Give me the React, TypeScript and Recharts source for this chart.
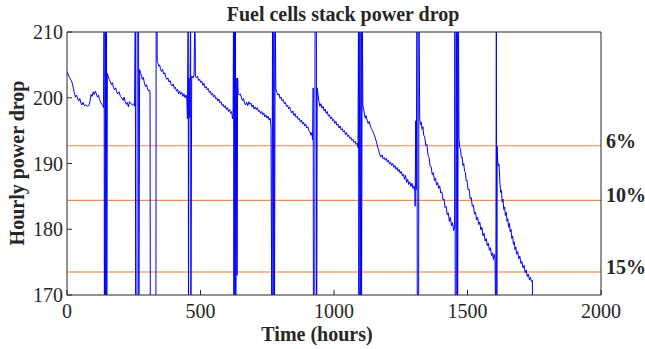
import React from 'react';
import { LineChart, Line, XAxis, YAxis, ReferenceLine } from 'recharts';

// [hours, power] pairs, one run per stack operating period (purge spikes kept inline)
const run1: [number, number][] = [
  [0, 204], [4, 203.6], [8, 203.2], [12, 202.9], [16, 202.6], [20, 202.2], [24, 201.4], [28, 200.6],
  [32, 200.1], [36, 200.4], [40, 199.8], [44, 199.5], [48, 199.9], [52, 199.2], [56, 198.9], [60, 199.3],
  [65, 198.8], [70, 198.9], [76, 198.7], [82, 198.8], [86, 199.4], [90, 200.5], [94, 200.2], [98, 200.9],
  [102, 200.5], [106, 201.0], [110, 200.6], [114, 200.1], [118, 200.4], [122, 199.7], [126, 199.3],
  [130, 199.0], [134, 198.8], [137, 198.5],
  [139, 215], [140, 165], [143, 198.5], [144, 215], [145, 165], [148, 215], [149, 165],
];

const run2: [number, number][] = [
  [151, 203.7], [154, 203.3], [158, 202.8], [162, 202.5], [166, 202.0], [170, 202.3], [174, 201.6],
  [178, 201.2], [182, 201.5], [186, 200.9], [190, 200.6], [195, 200.9], [200, 200.2], [205, 200.0],
  [210, 199.6], [214, 200.1], [218, 199.4], [222, 199.0], [226, 199.3], [230, 198.6], [234, 199.4],
  [238, 199.2], [242, 199.0], [246, 198.9], [250, 199.1], [253, 198.7],
  [256, 215], [257, 165], [262, 165], [263, 215], [268, 215], [269, 165],
];

const run3: [number, number][] = [
  [272, 204.3], [275, 203.9], [278, 203.5], [282, 202.8], [286, 203.1], [290, 202.2], [294, 201.7],
  [298, 202.0], [302, 201.3], [306, 201.0], [309, 201.2], [311, 200.9], [312, 165],
  [333, 165], [334, 215],
];

const run4: [number, number][] = [
  [337, 215], [338, 205.5], [341, 205.2], [344, 204.8], [347, 205.0], [350, 204.4], [354, 204.0],
  [358, 204.3], [362, 203.6], [366, 203.8], [370, 203.1], [374, 202.8], [378, 203.0], [382, 202.4],
  [386, 202.6], [390, 202.0], [394, 201.8], [398, 202.1], [402, 201.4], [406, 201.6], [410, 201.0],
  [414, 201.3], [418, 200.6], [422, 201.0], [426, 200.5], [430, 200.8], [434, 200.2], [438, 200.6],
  [442, 200.0], [446, 200.4], [449, 199.8], [451, 196.8],
  [454, 215], [455, 165], [457, 203.0], [460, 197.0], [463, 215], [464, 165], [467, 203.3],
  [472, 203.0], [476, 203.5], [479, 215],
];

const run5: [number, number][] = [
  [481, 203.2], [485, 203.0], [489, 203.3], [493, 202.6], [497, 202.8], [501, 202.3], [505, 202.5],
  [509, 201.9], [513, 202.2], [517, 201.5], [521, 201.7], [525, 201.2], [529, 201.4], [533, 200.8],
  [537, 201.0], [541, 200.4], [545, 200.7], [549, 200.1], [553, 200.4], [557, 199.8], [561, 200.0],
  [565, 199.5], [569, 199.8], [573, 199.2], [577, 199.4], [581, 198.8], [585, 199.0], [589, 198.5],
  [593, 198.8], [597, 198.2], [601, 198.5], [605, 197.9], [609, 198.2], [613, 197.6], [617, 197.9],
  [620, 196.8], [622, 197.5],
  [624, 215], [625, 165], [628, 215], [629, 165], [631, 215], [632, 165], [636, 203.0], [637, 173],
  [639, 203.0],
];

const run6: [number, number][] = [
  [641, 200.7], [645, 200.4], [649, 200.6], [653, 200.1], [657, 199.6], [661, 199.9], [665, 199.2],
  [669, 198.9], [673, 199.3], [677, 198.8], [681, 199.4], [685, 199.0], [689, 199.2], [693, 198.6],
  [697, 198.9], [701, 198.3], [705, 198.6], [709, 198.2], [713, 198.5], [717, 197.9], [721, 198.1],
  [725, 197.6], [729, 197.9], [733, 197.4], [737, 197.7], [741, 197.1], [745, 197.4], [749, 196.9],
  [753, 197.2], [757, 196.6], [761, 196.9], [764, 195.6],
  [767, 165], [770, 215], [772, 165], [775, 215], [777, 165], [780, 215],
];

const run7: [number, number][] = [
  [782, 201.4], [786, 200.8], [790, 200.4], [794, 200.6], [798, 199.9], [802, 200.1], [806, 199.5],
  [810, 199.7], [814, 199.1], [818, 199.3], [822, 198.7], [826, 198.9], [830, 198.3], [834, 198.6],
  [838, 198.0], [842, 197.7], [846, 198.0], [850, 197.3], [854, 197.6], [858, 197.0], [862, 197.2],
  [866, 196.7], [870, 196.9], [874, 196.3], [878, 196.6], [882, 196.0], [886, 196.3], [890, 195.7],
  [894, 196.0], [898, 195.4], [902, 195.6], [906, 195.0], [910, 194.8], [914, 194.3], [917, 194.7],
  [920, 193.6],
  [922, 201.5], [923, 165], [928, 165], [929, 215], [934, 215], [935, 165],
];

const run8: [number, number][] = [
  [937, 201.5], [940, 200.6], [943, 199.6], [947, 198.7], [951, 199.1], [955, 198.4], [959, 198.7],
  [963, 198.0], [967, 198.3], [971, 197.6], [975, 197.9], [979, 197.2], [983, 197.4], [987, 196.8],
  [991, 197.1], [995, 196.5], [999, 196.7], [1003, 196.1], [1007, 196.4], [1011, 195.8], [1015, 196.0],
  [1019, 195.4], [1023, 195.7], [1027, 195.1], [1031, 195.3], [1035, 194.8], [1039, 195.0],
  [1043, 194.4], [1047, 194.7], [1051, 194.1], [1055, 194.3], [1059, 193.8], [1063, 194.0],
  [1067, 193.5], [1071, 193.7], [1075, 193.2], [1079, 193.4], [1083, 192.9], [1087, 193.1],
  [1090, 192.4],
  [1092, 215], [1093, 165], [1097, 215], [1098, 165], [1102, 215], [1103, 165], [1106, 215],
];

const run9: [number, number][] = [
  [1108, 198.9], [1111, 198.3], [1114, 197.5], [1117, 196.9], [1120, 197.3], [1124, 196.6],
  [1128, 196.1], [1132, 196.4], [1136, 195.7], [1140, 195.3], [1144, 195.0], [1148, 194.6],
  [1152, 194.2], [1156, 193.7], [1160, 193.1], [1164, 192.4], [1168, 191.9], [1172, 191.3],
  [1176, 191.0], [1180, 191.3], [1184, 190.7], [1188, 190.9], [1192, 190.5], [1196, 190.8],
  [1200, 190.2], [1204, 190.5], [1208, 189.9], [1212, 190.2], [1216, 189.7], [1220, 190.0],
  [1224, 189.4], [1228, 189.7], [1232, 189.1], [1236, 189.4], [1240, 188.8], [1244, 189.1],
  [1248, 188.5], [1252, 188.8], [1256, 188.1], [1260, 188.4], [1264, 187.6], [1268, 188.2],
  [1272, 187.1], [1276, 187.6], [1280, 186.8], [1284, 187.2], [1288, 186.5], [1292, 187.0],
  [1296, 186.2], [1300, 186.6], [1303, 185.7],
  [1304, 183.5], [1306, 196.5], [1308, 186.0], [1311, 215], [1312, 165], [1317, 165], [1318, 215],
];

const run10: [number, number][] = [
  [1321, 196.8], [1324, 195.9], [1327, 196.3], [1330, 195.2], [1333, 195.6], [1336, 194.3],
  [1340, 194.0], [1344, 192.7], [1348, 192.9], [1352, 191.3], [1356, 190.9], [1360, 189.6],
  [1364, 189.5], [1368, 188.3], [1372, 188.6], [1376, 187.4], [1380, 187.8], [1384, 186.7],
  [1388, 187.1], [1392, 186.2], [1396, 186.6], [1400, 185.5], [1404, 185.7], [1408, 184.5],
  [1412, 184.6], [1416, 183.3], [1420, 183.5], [1424, 182.2], [1428, 182.5], [1432, 181.2],
  [1436, 181.8], [1440, 180.5], [1444, 181.0], [1448, 179.8], [1452, 180.3],
  [1453, 215], [1454, 165], [1458, 165], [1459, 215], [1462, 215], [1463, 165], [1466, 215],
];

const run11: [number, number][] = [
  [1468, 193.8], [1471, 192.4], [1474, 192.2], [1477, 190.9], [1480, 191.0], [1483, 189.7],
  [1486, 190.0], [1489, 188.8], [1492, 188.7], [1495, 187.4], [1498, 187.5], [1502, 186.0],
  [1506, 186.1], [1510, 184.6], [1514, 184.8], [1518, 183.5], [1522, 183.7], [1526, 182.3],
  [1530, 182.6], [1534, 181.4], [1538, 181.8], [1542, 180.7], [1546, 181.1], [1550, 179.9],
  [1554, 180.3], [1558, 179.0], [1562, 179.4], [1566, 178.2], [1570, 178.6], [1574, 177.5],
  [1578, 177.9], [1582, 176.8], [1586, 177.2], [1590, 176.0], [1594, 176.4], [1597, 175.4],
  [1600, 176.2], [1603, 175.5],
  [1606, 165], [1608, 215], [1610, 165],
];

const run12: [number, number][] = [
  [1611, 192.6], [1613, 190.4], [1615, 189.6], [1618, 189.9], [1621, 187.4], [1624, 185.6],
  [1627, 185.9], [1630, 184.1], [1633, 184.6], [1636, 183.0], [1639, 183.4], [1642, 182.1],
  [1645, 182.6], [1648, 181.2], [1651, 181.6], [1654, 180.3], [1657, 180.9], [1660, 179.6],
  [1663, 180.0], [1666, 178.6], [1669, 179.0], [1672, 177.7], [1675, 178.1], [1678, 176.9],
  [1681, 177.3], [1684, 176.2], [1688, 176.6], [1692, 175.5], [1696, 175.9], [1700, 174.8],
  [1704, 175.1], [1708, 174.1], [1712, 174.5], [1716, 173.4], [1720, 173.8], [1724, 172.8],
  [1728, 173.2], [1732, 172.3], [1736, 172.7], [1740, 172.0], [1743, 172.2], [1744, 165],
];

const thresholdLabels = ['6%', '10%', '15%'];
const thresholdValues = [192.7, 184.4, 173.5];
const thresholdColors = ['#ee8a4a', '#e8782a', '#f4bb93'];
const thresholdWidths = [1, 1, 2];

const xTicks = [0, 500, 1000, 1500, 2000];
const yTicks = [170, 180, 190, 200, 210];

const data = [run1, run2, run3, run4, run5, run6, run7, run8, run9, run10, run11, run12]
  .flat()
  .map(([t, v]) => ({ t, v }));

const FONT = '"Liberation Serif", "Times New Roman", serif';
const INK = '#262626';
const tickStyle = { fontSize: 20, fill: INK, fontFamily: FONT };

export default function App() {
  return (
    <div style={{ position: 'absolute', left: 0, top: 0, width: 645, height: 349, background: '#fff' }}>
      <LineChart width={645} height={349} data={data} margin={{ top: 0, right: 0, bottom: 0, left: 0 }}>
        <XAxis
          dataKey="t"
          type="number"
          domain={[0, 2000]}
          ticks={xTicks}
          interval={0}
          allowDataOverflow
          height={54}
          stroke={INK}
          tickSize={-5}
          tickMargin={14}
          tick={tickStyle}
        />
        <XAxis
          xAxisId="top"
          orientation="top"
          dataKey="t"
          type="number"
          domain={[0, 2000]}
          ticks={xTicks}
          interval={0}
          allowDataOverflow
          height={32}
          stroke={INK}
          tickSize={-5}
          tick={false}
        />
        <YAxis
          type="number"
          domain={[170, 210]}
          ticks={yTicks}
          interval={0}
          allowDataOverflow
          width={67}
          stroke={INK}
          tickSize={-5}
          tickMargin={9}
          tick={tickStyle}
        />
        <YAxis
          yAxisId="right"
          orientation="right"
          type="number"
          domain={[170, 210]}
          ticks={yTicks}
          interval={0}
          allowDataOverflow
          width={44}
          stroke={INK}
          tickSize={-5}
          tick={false}
        />
        {thresholdValues.map((v, i) => (
          <ReferenceLine
            key={thresholdLabels[i]}
            y={v}
            stroke={thresholdColors[i]}
            strokeWidth={thresholdWidths[i]}
            label={{
              content: (p: any) => (
                <text
                  x={p.viewBox.x + p.viewBox.width + 5}
                  y={p.viewBox.y + 2}
                  fontFamily={FONT}
                  fontSize={20}
                  fontWeight="bold"
                  fill={INK}
                  textAnchor="start"
                >
                  {thresholdLabels[i]}
                </text>
              ),
            }}
          />
        ))}
        <Line
          dataKey="v"
          type="linear"
          stroke="#0000ff"
          strokeWidth={1}
          dot={false}
          activeDot={false}
          isAnimationActive={false}
        />
      </LineChart>
      <svg
        width={645}
        height={349}
        style={{ position: 'absolute', left: 0, top: 0, pointerEvents: 'none' }}
      >
        <text x={343} y={21} textAnchor="middle" fontFamily={FONT} fontSize={20} fontWeight="bold" fill={INK}>
          Fuel cells stack power drop
        </text>
        <text x={317} y={341} textAnchor="middle" fontFamily={FONT} fontSize={20} fontWeight="bold" fill={INK}>
          Time (hours)
        </text>
        <text
          transform="translate(23.5,163) rotate(-90)"
          textAnchor="middle"
          fontFamily={FONT}
          fontSize={20}
          fontWeight="bold"
          fill={INK}
        >
          Hourly power drop
        </text>
      </svg>
    </div>
  );
}
